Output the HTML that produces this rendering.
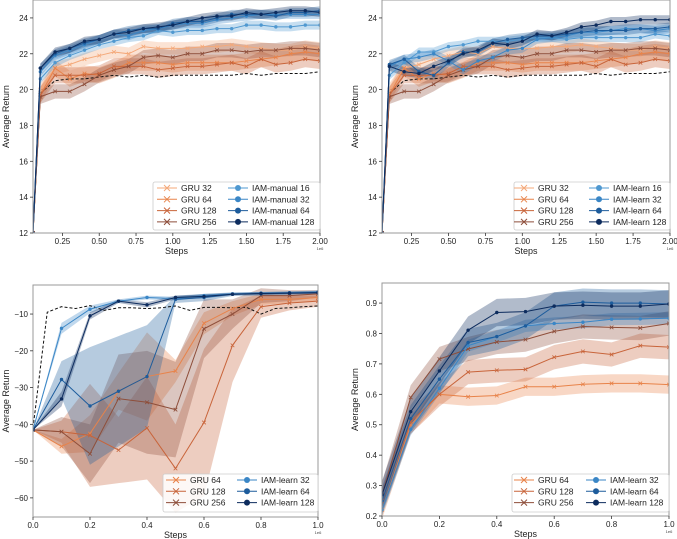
<!DOCTYPE html>
<html><head><meta charset="utf-8"><style>
body{margin:0;background:#fff}
svg{display:block;font-family:"Liberation Sans","DejaVu Sans",sans-serif}
</style></head><body>
<svg id="chart" width="677" height="539" viewBox="0 0 677 539"></svg>
<script>
// ---------- data ----------
const xTop = [0.05,0.1,0.2,0.3,0.4,0.5,0.6,0.7,0.8,0.9,1.0,1.1,1.2,1.3,1.4,1.5,1.6,1.7,1.8,1.9,2.0];
const gru32Top  = [12,20.0,21.2,21.4,21.7,21.9,22.1,22.0,22.4,22.3,22.3,22.3,22.4,22.4,22.5,22.4,22.3,22.2,22.2,22.4,22.3];
const gru64Top  = [12,19.7,21.2,20.6,20.9,20.8,21.1,21.5,21.5,21.5,21.4,21.5,21.5,21.5,21.5,21.6,21.7,21.8,22.0,22.1,22.0];
const gru128Top = [12,19.7,20.8,20.8,20.8,20.9,21.3,21.3,21.3,21.1,21.2,21.3,21.3,21.4,21.5,21.3,21.7,21.4,21.5,21.7,21.6];
const gru256Top = [12,19.6,19.9,19.9,20.3,20.8,21.1,21.3,21.8,21.9,21.8,22.0,22.0,22.2,22.2,22.1,22.2,22.2,22.3,22.3,22.2];
const baseTop   = [12,19.8,20.5,20.6,20.6,20.7,20.8,20.7,20.8,20.7,20.8,20.8,20.8,20.8,20.8,20.9,20.8,20.9,20.9,20.9,21.0];
const man16 = [12,20.6,21.5,21.9,22.2,22.5,22.7,22.9,23.0,23.3,23.2,23.3,23.3,23.4,23.4,23.6,23.6,23.5,23.5,23.6,23.6];
const man32 = [12,21.0,21.9,22.2,22.5,22.8,23.1,23.0,23.3,23.4,23.6,23.7,23.7,23.9,24.0,24.1,24.2,24.2,24.2,24.2,24.2];
const man64 = [12,21.2,22.0,22.3,22.6,22.8,23.1,23.3,23.4,23.4,23.7,23.8,23.8,24.0,24.2,24.2,24.2,24.1,24.3,24.3,24.4];
const man128= [12,21.2,22.1,22.3,22.7,22.8,23.1,23.2,23.4,23.5,23.6,23.8,24.0,24.1,24.1,24.3,24.2,24.3,24.4,24.4,24.3];
const lrn16 = [12,20.8,21.5,22.1,22.1,22.4,22.5,22.7,22.7,22.7,22.8,22.9,22.9,22.8,22.9,22.9,22.9,22.9,22.9,23.1,23.0];
const lrn32 = [12,21.3,21.7,21.8,22.0,21.6,21.1,21.6,21.8,22.2,22.3,22.8,22.9,23.0,23.2,23.2,23.3,23.4,23.4,23.3,23.4];
const lrn64 = [12,21.4,21.7,21.0,20.8,21.5,22.1,22.1,22.6,22.8,22.9,23.0,23.0,23.1,23.2,23.3,23.3,23.3,23.4,23.4,23.5];
const lrn128= [12,21.3,21.0,20.9,21.3,21.6,22.0,22.2,22.6,22.5,22.7,23.1,23.0,23.2,23.5,23.6,23.8,23.8,23.9,23.9,23.9];

const xBot = [0,0.1,0.2,0.3,0.4,0.5,0.6,0.7,0.8,0.9,1.0];
const bl32  = [-41.5,-13.9,-8.7,-6.5,-5.5,-5.8,-5.0,-4.5,-4.3,-4.2,-4.0];
const bl64  = [-41.5,-27.8,-35.0,-31.0,-27.0,-6.0,-5.5,-4.6,-4.5,-4.3,-4.1];
const bl128 = [-41.5,-33.1,-10.5,-6.5,-7.5,-5.5,-5.2,-4.6,-4.4,-4.3,-4.2];
const bg64  = [-41.5,-46,-42.5,-31,-27,-25.5,-12.5,-8.5,-6,-6,-5.5];
const bg128 = [-41.5,-42,-43,-47,-41,-52,-39.5,-18.5,-8,-7,-6.5];
const bg256 = [-41.5,-42,-48,-33,-34,-36,-14,-10,-5,-5,-4.5];
const bl32Err  = [0,1.5,1,0.5,0.5,0.5,0.5,0.3,0.3,0.3,0.3];
const bl64Err  = [0,5,16,15,14,1,1,0.5,0.5,0.5,0.5];
const bl128Err = [0,2,1,0.5,0.7,0.5,0.5,0.3,0.3,0.3,0.3];
const bg64Err  = [0,2,5,5,12,3,3,2,1.5,1,1];
const bg128Err = [0,3,14,9,14,12,20,10,3,2,1.5];
const bg256Err = [0,4,8,12,14,13,8,4,2,1.5,1];
const xBase3 = [0,0.05,0.1,0.15,0.2,0.25,0.3,0.35,0.4,0.45,0.5,0.55,0.6,0.65,0.7,0.75,0.8,0.85,0.9,0.95,1.0];
const base3  = [-41,-9.5,-8.0,-8.5,-7.7,-9,-8.3,-8.3,-8.5,-8.3,-7.8,-9,-8.2,-8.2,-8.3,-8.2,-10,-8.5,-8.3,-8.0,-7.8];

const r32  = [0.22,0.485,0.62,0.76,0.79,0.825,0.833,0.837,0.847,0.848,0.85];
const r64  = [0.25,0.52,0.65,0.77,0.79,0.825,0.89,0.903,0.9,0.9,0.897];
const r128 = [0.27,0.543,0.677,0.811,0.869,0.872,0.89,0.893,0.89,0.89,0.897];
const rg64  = [0.22,0.50,0.60,0.592,0.596,0.625,0.625,0.633,0.636,0.636,0.632];
const rg128 = [0.25,0.51,0.60,0.673,0.679,0.682,0.722,0.741,0.731,0.76,0.755];
const rg256 = [0.27,0.59,0.716,0.749,0.772,0.78,0.807,0.823,0.82,0.818,0.833];

const ticksTopX = [0.25,0.5,0.75,1.0,1.25,1.5,1.75,2.0];
const ticksTopXLabels = ["0.25","0.50","0.75","1.00","1.25","1.50","1.75","2.00"];
const ticksTopY = [12,14,16,18,20,22,24];
const ticksBotX = [0,0.2,0.4,0.6,0.8,1.0];
const ticksBotXLabels = ["0.0","0.2","0.4","0.6","0.8","1.0"];
const ticksP3Y = [-60,-50,-40,-30,-20,-10];
const ticksP4Y = [0.2,0.3,0.4,0.5,0.6,0.7,0.8,0.9];

// ---------- drawing ----------
const NS="http://www.w3.org/2000/svg";
const svg=document.getElementById('chart');
function mk(tag,attrs,parent){const e=document.createElementNS(NS,tag);for(const k in attrs)e.setAttribute(k,attrs[k]);(parent||svg).appendChild(e);return e;}
const C={g32:'#f4a97a',g64:'#e8834a',g128:'#c8643a',g256:'#8e4e3a',b16:'#4f98d0',b32:'#3a86c6',b64:'#1d5c9c',b128:'#0d2c5e'};

function panel(name,L,R,T,B,xmin,xmax,ymin,ymax){
  const g=mk('g',{});
  
  
  const sx=v=>L+(v-xmin)/(xmax-xmin)*(R-L);
  const sy=v=>B-(v-ymin)/(ymax-ymin)*(B-T);
  const clipId=name+'-clip';
  const cp=mk('clipPath',{id:clipId},g);mk('rect',{x:L,y:T,width:R-L,height:B-T},cp);
  const plot=mk('g',{'clip-path':`url(#${clipId})`},g);
  return {g,plot,sx,sy,L,R,T,B};
}
function band(p,xs,ys,err,color,nm){
  let d='';xs.forEach((x,i)=>{d+=(i?'L':'M')+p.sx(x)+','+p.sy(ys[i]+err[i]);});
  for(let i=xs.length-1;i>=0;i--)d+='L'+p.sx(xs[i])+','+p.sy(ys[i]-err[i]);
  const e=mk('path',{d:d+'Z',fill:color,'fill-opacity':0.32,stroke:'none'},p.plot);
  
  
}
function line(p,xs,ys,color,nm,marker,dash){
  const pts=xs.map((x,i)=>p.sx(x)+','+p.sy(ys[i])).join(' ');
  const e=mk('polyline',{points:pts,fill:'none',stroke:color,'stroke-width':1,'stroke-dasharray':dash||'none'},p.plot);
  
  
  if(!marker)return;
  xs.forEach((x,i)=>{const cx=p.sx(x),cy=p.sy(ys[i]);
    let m;
    if(marker==='o')m=mk('circle',{cx,cy,r:1.7,fill:color},p.plot);
    else m=mk('path',{d:`M${cx-1.8},${cy-1.8}L${cx+1.8},${cy+1.8}M${cx-1.8},${cy+1.8}L${cx+1.8},${cy-1.8}`,stroke:color,'stroke-width':0.8},p.plot);
    
    
  });
}
function axes(p,xt,xl,yt,yl,mult){
  const g=p.g;
  const f=mk('rect',{x:p.L,y:p.T,width:p.R-p.L,height:p.B-p.T,fill:'none',stroke:'#999','stroke-width':1},g);
  
  
  xt.forEach((v,i)=>{const x=p.sx(v);mk('line',{x1:x,x2:x,y1:p.B,y2:p.B+3,stroke:'#333','stroke-width':0.8},g);
    const t=mk('text',{x,y:p.B+11,'font-size':8,'text-anchor':'middle',fill:'#222'},g);t.textContent=xl[i];
    
    });
  yt.forEach(v=>{const y=p.sy(v);mk('line',{x1:p.L-3,x2:p.L,y1:y,y2:y,stroke:'#333','stroke-width':0.8},g);
    const t=mk('text',{x:p.L-5,y:y+3,'font-size':8,'text-anchor':'end',fill:'#222'},g);t.textContent=yl(v);
    
    });
  const xl2=mk('text',{x:(p.L+p.R)/2,y:p.B+21,'font-size':9,'text-anchor':'middle',fill:'#222'},g);xl2.textContent='Steps';
  
  
  const yc=(p.T+p.B)/2;
  const yl2=mk('text',{x:p.L-24,y:yc,'font-size':9,'text-anchor':'middle',fill:'#222',transform:`rotate(-90 ${p.L-24} ${yc})`},g);yl2.textContent='Average Return';
  
  
  const m=mk('text',{x:p.R,y:p.B+17,'font-size':4,'text-anchor':'middle',fill:'#444'},g);m.textContent=mult;
  
  
}
function legend(p,x,y,w,h,c1x,c2x,rows,items){
  const g=mk('g',{},p.g);
  
  
  mk('rect',{x,y,width:w,height:h,fill:'#fff','fill-opacity':0.85,stroke:'#ccc','stroke-width':0.8,rx:2},g);
  items.forEach((it,i)=>{const col=i<rows?0:1,r=i%rows;const lx=col?c2x:c1x;const ly=y+6+r*11.3;
    const e=mk('g',{},g);
    
    
    mk('line',{x1:lx,x2:lx+20,y1:ly,y2:ly,stroke:it.c,'stroke-width':1},e);
    const cx=lx+10;
    if(it.m==='o')mk('circle',{cx,cy:ly,r:3,fill:it.c},e);
    else mk('path',{d:`M${cx-3},${ly-3}L${cx+3},${ly+3}M${cx-3},${ly+3}L${cx+3},${ly-3}`,stroke:it.c,'stroke-width':1},e);
    const t=mk('text',{x:lx+24,y:ly+3,'font-size':8.5,fill:'#222'},e);t.textContent=it.t;});
}

// top panels
function topPanel(name,L,blues,labels){
  const p=panel(name,L,L+(L===33?287:288),0,233,0.05,2.0,12,25);
  const gru=[[gru32Top,C.g32,0.35],[gru64Top,C.g64,0.45],[gru128Top,C.g128,0.45],[gru256Top,C.g256,0.4]];
  gru.forEach((s,i)=>band(p,xTop,s[0],xTop.map(()=>s[2]),s[1],'gru-'+i));
  blues.forEach((s,i)=>band(p,xTop,s[0],xTop.map(()=>0.25),s[1],'iam-'+i));
  line(p,xTop,baseTop,'#111','baseline',null,'3,2');
  gru.forEach((s,i)=>line(p,xTop,s[0],s[1],'gru-'+i,'x'));
  blues.forEach((s,i)=>line(p,xTop,s[0],s[1],'iam-'+i,'o'));
  axes(p,ticksTopX,ticksTopXLabels,ticksTopY,v=>String(v),'1e6');
  return p;
}
const p1=topPanel('panel-iam-manual',33,[[man16,C.b16],[man32,C.b32],[man64,C.b64],[man128,C.b128]]);
legend(p1,153,182,167,48,157,228,4,[
 {t:'GRU 32',c:C.g32,m:'x'},{t:'GRU 64',c:C.g64,m:'x'},{t:'GRU 128',c:C.g128,m:'x'},{t:'GRU 256',c:C.g256,m:'x'},
 {t:'IAM-manual 16',c:C.b16,m:'o'},{t:'IAM-manual 32',c:C.b32,m:'o'},{t:'IAM-manual 64',c:C.b64,m:'o'},{t:'IAM-manual 128',c:C.b128,m:'o'}]);
const p2=topPanel('panel-iam-learn-top',382,[[lrn16,C.b16],[lrn32,C.b32],[lrn64,C.b64],[lrn128,C.b128]]);
legend(p2,514,182,156,48,514,589,4,[
 {t:'GRU 32',c:C.g32,m:'x'},{t:'GRU 64',c:C.g64,m:'x'},{t:'GRU 128',c:C.g128,m:'x'},{t:'GRU 256',c:C.g256,m:'x'},
 {t:'IAM-learn 16',c:C.b16,m:'o'},{t:'IAM-learn 32',c:C.b32,m:'o'},{t:'IAM-learn 64',c:C.b64,m:'o'},{t:'IAM-learn 128',c:C.b128,m:'o'}]);

// bottom-left
const p3=panel('panel-bottom-left',33,318,285,517,0,1,-65.2,-2.1);
[[bg64,bg64Err,C.g64],[bg128,bg128Err,C.g128],[bg256,bg256Err,C.g256]].forEach((s,i)=>band(p3,xBot,s[0],s[1],s[2],'gru-'+i));
[[bl32,bl32Err,C.b32],[bl64,bl64Err,C.b64],[bl128,bl128Err,C.b128]].forEach((s,i)=>band(p3,xBot,s[0],s[1],s[2],'iam-'+i));
line(p3,xBase3,base3,'#111','baseline',null,'3,2');
[[bg64,C.g64],[bg128,C.g128],[bg256,C.g256]].forEach((s,i)=>line(p3,xBot,s[0],s[1],'gru-'+i,'x'));
[[bl32,C.b32],[bl64,C.b64],[bl128,C.b128]].forEach((s,i)=>line(p3,xBot,s[0],s[1],'iam-'+i,'o'));
axes(p3,ticksBotX,ticksBotXLabels,ticksP3Y,v=>'\u2212'+Math.abs(v),'1e6');
legend(p3,163,474,155,38,166,237,3,[
 {t:'GRU 64',c:C.g64,m:'x'},{t:'GRU 128',c:C.g128,m:'x'},{t:'GRU 256',c:C.g256,m:'x'},
 {t:'IAM-learn 32',c:C.b32,m:'o'},{t:'IAM-learn 64',c:C.b64,m:'o'},{t:'IAM-learn 128',c:C.b128,m:'o'}]);

// bottom-right
const p4=panel('panel-bottom-right',382,669,283,516,0,1,0.2,0.966);
[[rg64,0.03,C.g64],[rg128,0.04,C.g128],[rg256,0.04,C.g256]].forEach((s,i)=>band(p4,xBot,s[0],xBot.map(()=>s[1]),s[2],'gru-'+i));
[[r32,0.02,C.b32],[r64,0.045,C.b64],[r128,0.045,C.b128]].forEach((s,i)=>band(p4,xBot,s[0],xBot.map(()=>s[1]),s[2],'iam-'+i));
[[rg64,C.g64],[rg128,C.g128],[rg256,C.g256]].forEach((s,i)=>line(p4,xBot,s[0],s[1],'gru-'+i,'x'));
[[r32,C.b32],[r64,C.b64],[r128,C.b128]].forEach((s,i)=>line(p4,xBot,s[0],s[1],'iam-'+i,'o'));
axes(p4,ticksBotX,ticksBotXLabels,ticksP4Y,v=>v.toFixed(1),'1e6');
legend(p4,512,474,157,38,514,586,3,[
 {t:'GRU 64',c:C.g64,m:'x'},{t:'GRU 128',c:C.g128,m:'x'},{t:'GRU 256',c:C.g256,m:'x'},
 {t:'IAM-learn 32',c:C.b32,m:'o'},{t:'IAM-learn 64',c:C.b64,m:'o'},{t:'IAM-learn 128',c:C.b128,m:'o'}]);
</script>
</body></html>
